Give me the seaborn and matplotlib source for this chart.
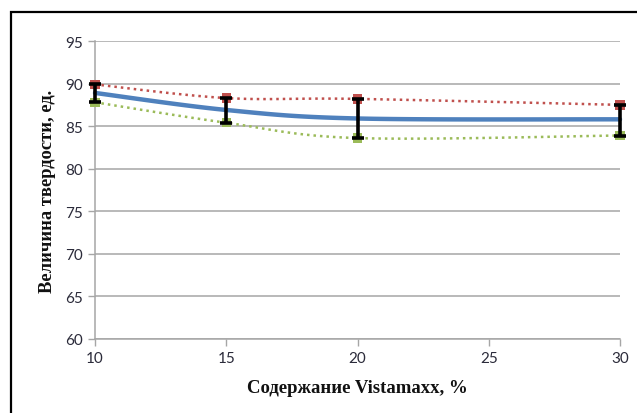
import numpy as np
import pandas as pd
import matplotlib
matplotlib.use("Agg")
import matplotlib.pyplot as plt
import seaborn as sns
from matplotlib.patches import Rectangle

# ---- data ----
content = [10, 15, 20, 30]
hardness_max = [89.9, 88.3, 88.2, 87.5]
hardness_mean = [88.9, 86.9, 85.9, 85.8]
hardness_min = [87.8, 85.4, 83.6, 83.9]
x_ticks = [10, 15, 20, 25, 30]
y_ticks = [60, 65, 70, 75, 80, 85, 90, 95]
x_label = "Содержание Vistamaxx, %"
y_label = "Величина твердости, ед."

sns.set_theme(style="white")
plt.rcParams['font.family'] = ['Lato', 'DejaVu Sans']


def smooth(xs, ys, n=40):
    """Excel-like smoothed (Catmull-Rom Bezier) curve through the points."""
    P = np.column_stack([xs, ys]).astype(float)
    pts = [P[0]] + list(P) + [P[-1]]
    out = []
    t = np.linspace(0, 1, n)[:, None]
    for i in range(1, len(pts) - 2):
        p0, p1, p2, p3 = pts[i - 1], pts[i], pts[i + 1], pts[i + 2]
        c1 = p1 + (p2 - p0) / 6.0
        c2 = p2 - (p3 - p1) / 6.0
        seg = ((1 - t) ** 3) * p1 + 3 * ((1 - t) ** 2) * t * c1 + 3 * (1 - t) * t ** 2 * c2 + t ** 3 * p2
        out.append(seg if i == 1 else seg[1:])
    seg = np.vstack(out)
    return seg[:, 0], seg[:, 1]


fig = plt.figure(figsize=(6.37, 4.14), dpi=100)
ax = fig.add_axes([95 / 637, 1 - 340 / 414, (620 - 95) / 637, (340 - 42) / 414])

series = [
    (hardness_max, "#C0504D", (0, (1, 1.6)), 1.8),
    (hardness_min, "#9BBB59", (0, (1, 1.6)), 1.8),
    (hardness_mean, "#4F81BD", "-", 3.2),
]
for vals, col, ls, lw in series:
    sx, sy = smooth(content, vals)
    df = pd.DataFrame({"x": sx, "y": sy})
    sns.lineplot(data=df, x="x", y="y", sort=False, color=col, linestyle=ls,
                 linewidth=lw, ax=ax, zorder=3, clip_on=False)

# square markers at max / min
sns.scatterplot(x=content, y=hardness_max, marker="s", s=45, color="#C0504D",
                edgecolor="none", ax=ax, zorder=4, clip_on=False)
sns.scatterplot(x=content, y=hardness_min, marker="s", s=45, color="#9BBB59",
                edgecolor="none", ax=ax, zorder=4, clip_on=False)

# error bars from min to max around the mean
mean = np.array(hardness_mean)
lower = mean - np.array(hardness_min)
upper = np.array(hardness_max) - mean
eb = ax.errorbar(content, mean, yerr=[lower, upper], fmt="none", ecolor="black",
                 elinewidth=2.6, capsize=4, capthick=2.6, zorder=5)
for part in eb.lines:
    if part is None:
        continue
    items = part if isinstance(part, (tuple, list)) else [part]
    for it in items:
        it.set_clip_on(False)

ax.set_xlim(10, 30)
ax.set_ylim(60, 95)
ax.set_xticks(x_ticks)
ax.set_yticks(y_ticks)
ax.yaxis.grid(True, color="#A6A6A6", linewidth=1.1)
ax.xaxis.grid(False)
ax.set_axisbelow(True)

for s in ["top", "right"]:
    ax.spines[s].set_visible(False)
for s in ["left", "bottom"]:
    ax.spines[s].set_color("#A6A6A6")
    ax.spines[s].set_linewidth(1.1)

ax.tick_params(axis="both", which="major", direction="out", length=5, width=1.0,
               color="#A6A6A6", labelsize=11, labelcolor="#2b2b3a", pad=4,
               bottom=True, left=True)

ax.set_xlabel(x_label, fontsize=13.5, fontweight="bold", family="Liberation Serif",
              color="#111111", labelpad=10)
ax.set_ylabel(y_label, fontsize=13.3, fontweight="bold", family="Liberation Serif",
              color="#111111", labelpad=6)

# outer frame of the chart area (right/bottom edges lie off-canvas)
fig.patches.append(Rectangle((11 / 637, -0.05), 1.2, 1 - 13 / 414 + 0.05,
                             transform=fig.transFigure, fill=False,
                             edgecolor="black", linewidth=1.6, zorder=10))

fig.savefig("out.png", dpi=100)
